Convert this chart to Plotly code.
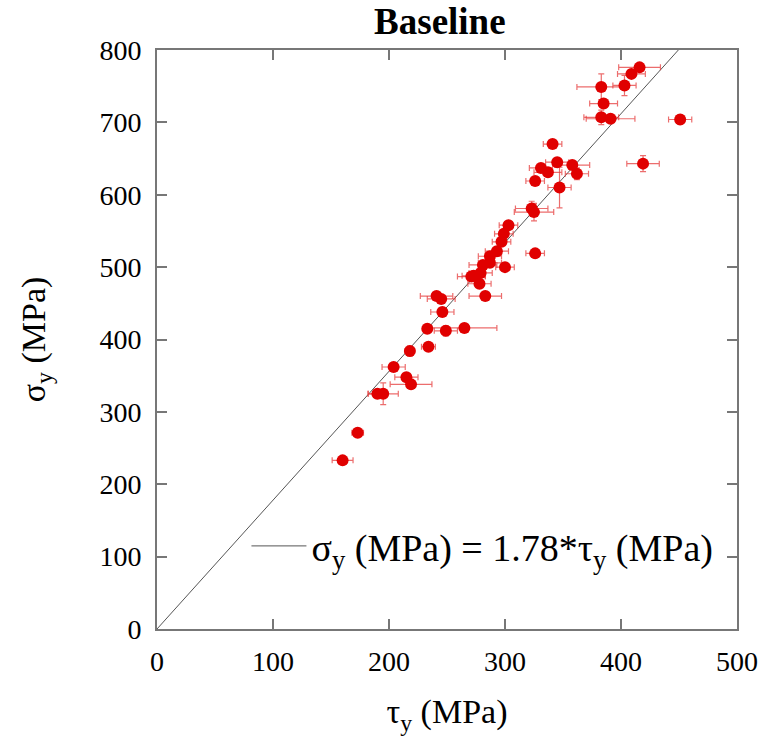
import plotly.graph_objects as go

# data: shear yield (tau_y) vs tensile yield (sigma_y), MPa
tau_y = [160, 173, 190, 195, 204, 215, 219, 218, 233, 234, 249, 265, 246, 241, 245,
         283, 278, 271, 273, 279, 281, 287, 287, 293, 297, 299, 303, 300, 326, 323,
         325, 326, 331, 337, 341, 345, 347, 358, 362, 383, 385, 383, 391, 403, 409,
         416, 451, 419]
sigma_y = [233, 271, 325, 325, 362, 348, 338, 384, 415, 390, 412, 416, 438, 460, 456,
           460, 477, 487, 488, 492, 503, 506, 515, 522, 535, 546, 558, 500, 519, 581,
           576, 619, 637, 631, 670, 645, 610, 641, 629, 749, 726, 707, 705, 751, 767,
           776, 704, 643]
tau_err = [9, 5, 8, 13, 10, 10, 18, 4, 3, 6, 10, 28, 10, 14, 12,
           14, 10, 12, 10, 10, 12, 10, 10, 10, 8, 8, 8, 8, 8, 14,
           17, 8, 10, 12, 8, 10, 10, 15, 10, 21, 12, 15, 21, 10, 12,
           18, 10, 14]
sigma_err = [3, 4, 3, 15, 4, 4, 4, 7, 5, 3, 7, 3, 4, 3, 3,
             4, 4, 4, 4, 4, 4, 5, 4, 4, 4, 4, 4, 4, 4, 10,
             12, 4, 5, 5, 5, 5, 28, 5, 8, 18, 6, 10, 5, 14, 6,
             5, 6, 11]
slope = 1.78
fit_x = [0, 800 / slope]
fit_y = [slope * v for v in fit_x]

x_ticks = [0, 100, 200, 300, 400, 500]
y_ticks = [0, 100, 200, 300, 400, 500, 600, 700, 800]

FONT = "Liberation Serif"
AXCOL = "#777777"

fig = go.Figure()
fig.add_trace(go.Scatter(
    x=fit_x, y=fit_y, mode="lines",
    line=dict(color="#555555", width=1),
    name="σ<sub>y</sub> (MPa) = 1.78*τ<sub>y</sub> (MPa)",
    showlegend=True,
))
fig.add_trace(go.Scatter(
    x=tau_y, y=sigma_y, mode="markers",
    marker=dict(color="#e00000", size=12),
    error_x=dict(type="data", array=tau_err, color="rgba(230,60,60,0.75)", thickness=1.2, width=3),
    error_y=dict(type="data", array=sigma_err, color="rgba(230,60,60,0.75)", thickness=1.2, width=3),
    showlegend=False,
))

axis_common = dict(
    showline=True, linecolor=AXCOL, linewidth=2, mirror="ticks",
    ticks="inside", ticklen=10, tickwidth=2, tickcolor=AXCOL,
    showgrid=False, zeroline=False, automargin=False,
    tickfont=dict(family=FONT, size=28, color="black"),
)

fig.update_layout(
    width=761, height=748,
    margin=dict(l=157, r=24, t=50, b=119),
    plot_bgcolor="white", paper_bgcolor="white",
    title=dict(text="<b>Baseline</b>", x=0.578, xanchor="center", y=0.972, yanchor="middle",
               font=dict(family=FONT, size=37, color="black")),
    xaxis=dict(range=[0, 500], tickvals=x_ticks, ticklabelstandoff=6,
               title=dict(text="τ<sub>y</sub> (MPa)", font=dict(family=FONT, size=34, color="black"), standoff=24),
               **axis_common),
    yaxis=dict(range=[0, 800], tickvals=y_ticks, ticklabelstandoff=8,
               title=dict(text="σ<sub>y</sub> (MPa)", font=dict(family=FONT, size=34, color="black"), standoff=44),
               **axis_common),
    legend=dict(x=0.968, y=0.143, xanchor="right", yanchor="middle",
                bgcolor="rgba(0,0,0,0)", borderwidth=0,
                font=dict(family=FONT, size=38, color="black"), itemwidth=55),
)

fig.write_html("out.html")
